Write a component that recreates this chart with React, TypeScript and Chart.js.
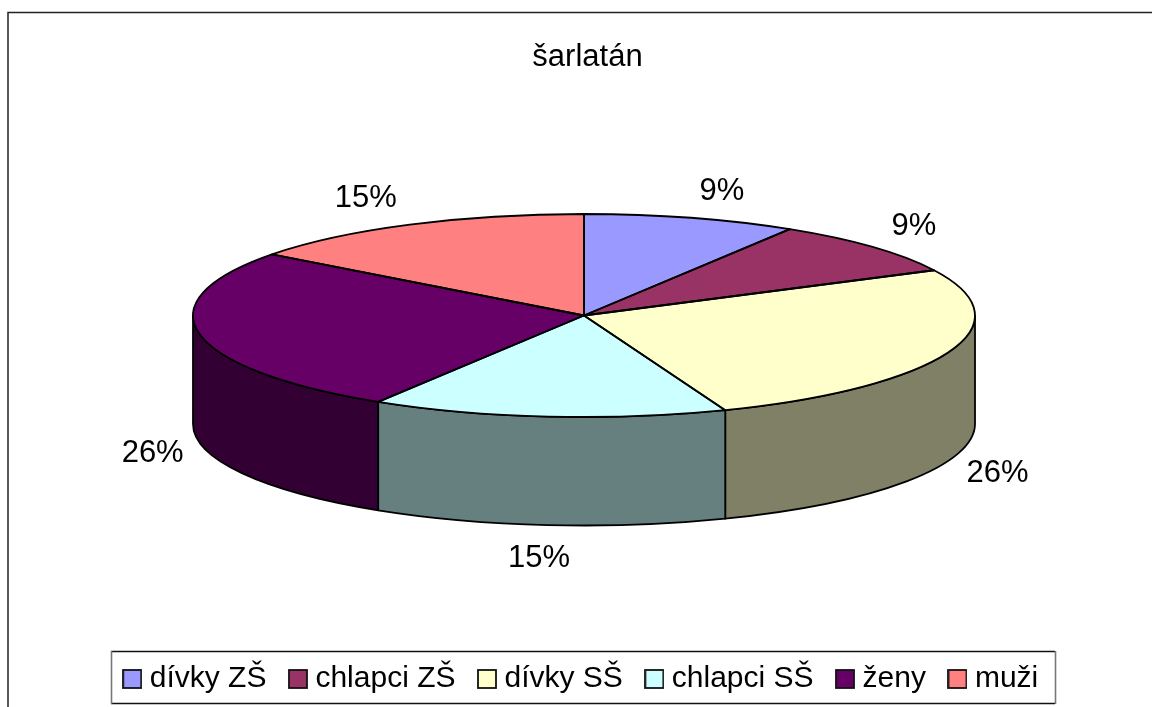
import React, { useEffect, useRef } from "react";
import { Chart, registerables } from "chart.js";

Chart.register(...registerables);

const categories = ["dívky ZŠ", "chlapci ZŠ", "dívky SŠ", "chlapci SŠ", "ženy", "muži"];
const values = [3, 3, 9, 5, 9, 5];
const colours = ["#9999FF", "#993366", "#FFFFCC", "#CCFFFF", "#660066", "#FF8080"];
const titleText = "šarlatán";

const FONT = "'Liberation Sans', Arial, sans-serif";
const RX = 391;
const RY = 101.5;
const DEPTH = 108.5;
const CY = 315.5;
const LABEL_OFFSETS = [[31, -26], [41, -21], [49, 13], [-9, 33], [-47, 11], [-44, -26]];

function darken(hex: string) {
  const n = parseInt(hex.slice(1), 16);
  const ch = (s: number) => (((n >> s) & 255) >> 1) + (((n >> s) & 255) & 1);
  return `rgb(${ch(16)},${ch(8)},${ch(0)})`;
}

function swatch(colour: string) {
  const c = document.createElement("canvas");
  c.width = 20;
  c.height = 20;
  const x = c.getContext("2d")!;
  x.fillStyle = colour;
  x.fillRect(1, 1, 18, 18);
  x.strokeStyle = "#111";
  x.lineWidth = 1.8;
  x.strokeRect(1, 1, 18, 18);
  return c;
}

const pie3d = {
  id: "pie3d",
  afterLayout(chart: any) {
    chart.titleBlock.left += 7;
  },
  beforeDatasetDraw() {
    return false;
  },
  afterDatasetsDraw(chart: any) {
    const ctx = chart.ctx as CanvasRenderingContext2D;
    const arcs = chart.getDatasetMeta(0).data as any[];
    const total = values.reduce((a, b) => a + b, 0);
    const cx = arcs[0].x;
    const k = RY / arcs[0].outerRadius;
    ctx.save();
    ctx.lineJoin = "round";
    ctx.strokeStyle = "#000";
    ctx.lineWidth = 1.8;
    // outer wall
    arcs.forEach((arc, i) => {
      const a = Math.max(arc.startAngle, 0);
      const b = Math.min(arc.endAngle, Math.PI);
      if (b <= a) return;
      ctx.beginPath();
      ctx.ellipse(cx, CY, RX, RY, 0, a, b);
      ctx.lineTo(cx + RX * Math.cos(b), CY + RY * Math.sin(b) + DEPTH);
      ctx.ellipse(cx, CY + DEPTH, RX, RY, 0, b, a, true);
      ctx.closePath();
      ctx.fillStyle = darken(colours[i]);
      ctx.fill();
      ctx.stroke();
    });
    // top face: the library's own arc, squashed
    arcs.forEach((arc) => {
      ctx.save();
      ctx.translate(cx, CY);
      ctx.scale(1, k);
      ctx.translate(-cx, -arc.y);
      arc.draw(ctx);
      ctx.restore();
    });
    arcs.forEach((arc) => {
      ctx.beginPath();
      ctx.moveTo(cx, CY);
      ctx.ellipse(cx, CY, RX, RY, 0, arc.startAngle, arc.endAngle);
      ctx.closePath();
      ctx.stroke();
    });
    // labels
    ctx.fillStyle = "#000";
    ctx.font = `31px ${FONT}`;
    ctx.textAlign = "center";
    ctx.textBaseline = "middle";
    arcs.forEach((arc, i) => {
      const mid = (arc.startAngle + arc.endAngle) / 2;
      const s = Math.sin(mid);
      const x = cx + RX * Math.cos(mid) + LABEL_OFFSETS[i][0];
      const y = CY + RY * s + (s > 0 ? DEPTH : 0) + LABEL_OFFSETS[i][1];
      ctx.fillText(`${Math.round((values[i] / total) * 100)}%`, x, y);
    });
    ctx.restore();
  },
  afterDraw(chart: any) {
    const ctx = chart.ctx as CanvasRenderingContext2D;
    ctx.save();
    ctx.strokeStyle = "#222";
    ctx.lineWidth = 1.5;
    ctx.beginPath();
    ctx.moveTo(8, 720);
    ctx.lineTo(8, 12.5);
    ctx.lineTo(1160, 12.5);
    ctx.stroke();
    const boxes = chart.legend.legendHitBoxes as any[];
    const first = boxes[0];
    const last = boxes[boxes.length - 1];
    const midY = first.top + first.height / 2;
    const left = Math.round(first.left) - 19;
    const right = Math.round(last.left + last.width) + 17;
    const top = Math.round(midY - 28);
    ctx.lineWidth = 1.3;
    ctx.strokeStyle = "#111";
    ctx.beginPath();
    ctx.moveTo(left, top + 0.5);
    ctx.lineTo(right, top + 0.5);
    ctx.moveTo(left, top + 52.5);
    ctx.lineTo(right, top + 52.5);
    ctx.stroke();
    ctx.strokeStyle = "#777";
    ctx.lineWidth = 1.6;
    ctx.beginPath();
    ctx.moveTo(left + 0.5, top);
    ctx.lineTo(left + 0.5, top + 53);
    ctx.moveTo(right + 0.5, top);
    ctx.lineTo(right + 0.5, top + 53);
    ctx.stroke();
    ctx.restore();
  },
};

export default function App() {
  const ref = useRef<HTMLCanvasElement>(null);
  useEffect(() => {
    const chart = new Chart(ref.current!, {
      type: "pie",
      data: {
        labels: categories,
        datasets: [
          {
            data: values,
            backgroundColor: colours,
            borderWidth: 0,
            radius: RX,
          } as any,
        ],
      },
      plugins: [pie3d],
      options: {
        responsive: false,
        animation: false,
        layout: { padding: { left: 16, right: 0, top: 0, bottom: 3 } },
        plugins: {
          tooltip: { enabled: false },
          title: {
            display: true,
            text: titleText,
            color: "#000",
            font: { family: FONT, size: 31, weight: "normal" },
            padding: { top: 39, bottom: 10 },
          },
          legend: {
            display: true,
            position: "bottom",
            onClick: undefined,
            labels: {
              color: "#000",
              font: { family: FONT, size: 30 },
              usePointStyle: true,
              pointStyleWidth: 5,
              padding: 29,
              generateLabels: () =>
                categories.map((text, i) => ({
                  text,
                  fontColor: "#000",
                  pointStyle: swatch(colours[i]),
                  datasetIndex: 0,
                  index: i,
                })),
            },
          },
        },
      },
    } as any);
    return () => chart.destroy();
  }, []);
  return (
    <canvas
      ref={ref}
      width={1152}
      height={707}
      style={{ position: "fixed", left: 0, top: 0, width: 1152, height: 707, background: "#fff" }}
    />
  );
}
